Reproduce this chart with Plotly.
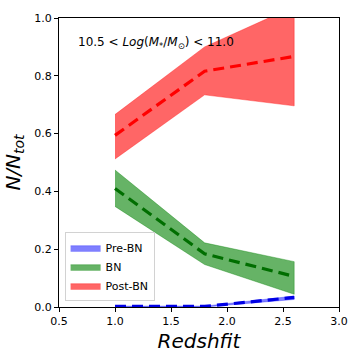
import plotly.graph_objects as go

redshift = [1.0, 1.8, 2.6]

pre_mean = [0.002, 0.002, 0.033]
pre_low = [0.0, 0.0, 0.026]
pre_high = [0.003, 0.003, 0.038]

bn_mean = [0.41, 0.184, 0.106]
bn_low = [0.348, 0.147, 0.044]
bn_high = [0.474, 0.222, 0.157]

post_mean = [0.594, 0.816, 0.867]
post_low = [0.512, 0.734, 0.696]
post_high = [0.666, 0.90, 1.04]

series = [
    ('Pre-BN', pre_mean, pre_low, pre_high, 'rgba(0,0,255,0.5)', 'rgb(0,0,230)'),
    ('BN', bn_mean, bn_low, bn_high, 'rgba(0,128,0,0.6)', 'rgb(0,110,0)'),
    ('Post-BN', post_mean, post_low, post_high, 'rgba(255,0,0,0.6)', 'rgb(255,0,0)'),
]

fig = go.Figure()

# shaded bands first, dashed means on top
for name, mean, low, high, fillc, linec in series:
    fig.add_trace(go.Scatter(x=redshift + redshift[::-1], y=high + low[::-1],
                             fill='toself', fillcolor=fillc, mode='lines',
                             line=dict(width=0.6, color=fillc), name=name))
for name, mean, low, high, fillc, linec in series:
    fig.add_trace(go.Scatter(x=redshift, y=mean, mode='lines', showlegend=False,
                             line=dict(color=linec, width=3.2, dash='11px,6px')))

axis = dict(mirror=True, ticks='outside', showline=True, linecolor='black',
            linewidth=1, ticklen=4, tickcolor='black', showgrid=False, zeroline=False,
            tickfont=dict(size=11, color='black'))

fig.update_layout(
    width=360, height=360,
    margin=dict(l=59, r=18, t=15, b=52),
    plot_bgcolor='white', paper_bgcolor='white',
    font=dict(family='DejaVu Sans', color='black'),
    xaxis=dict(axis, range=[0.5, 3.0], tickvals=[0.5, 1.0, 1.5, 2.0, 2.5, 3.0],
               ticktext=['0.5', '1.0', '1.5', '2.0', '2.5', '3.0'],
               title=dict(text='<i>Redshfit</i>', font=dict(size=20), standoff=6)),
    yaxis=dict(axis, range=[0, 1.0], tickvals=[0, 0.2, 0.4, 0.6, 0.8, 1.0],
               ticktext=['0.0', '0.2', '0.4', '0.6', '0.8', '1.0'],
               title=dict(text='<i>N/N<sub>tot</sub></i>', font=dict(size=20), standoff=8)),
    legend=dict(x=0.02, y=0.02, xanchor='left', yanchor='bottom',
                bordercolor='rgb(210,210,210)', borderwidth=1, bgcolor='white',
                font=dict(size=11), tracegroupgap=0, itemwidth=30),
    showlegend=True,
)

fig.add_annotation(xref='paper', yref='paper', x=0.06, y=0.915, xanchor='left', yanchor='middle',
                   text='10.5 &lt; <i>Log</i>(<i>M</i><sub>*</sub>/<i>M</i><sub>⊙</sub>) &lt; 11.0',
                   font=dict(size=12, color='black'), showarrow=False)

fig.write_html("out.html", config={'displayModeBar': False},
               post_script="document.body.style.margin='0';")
